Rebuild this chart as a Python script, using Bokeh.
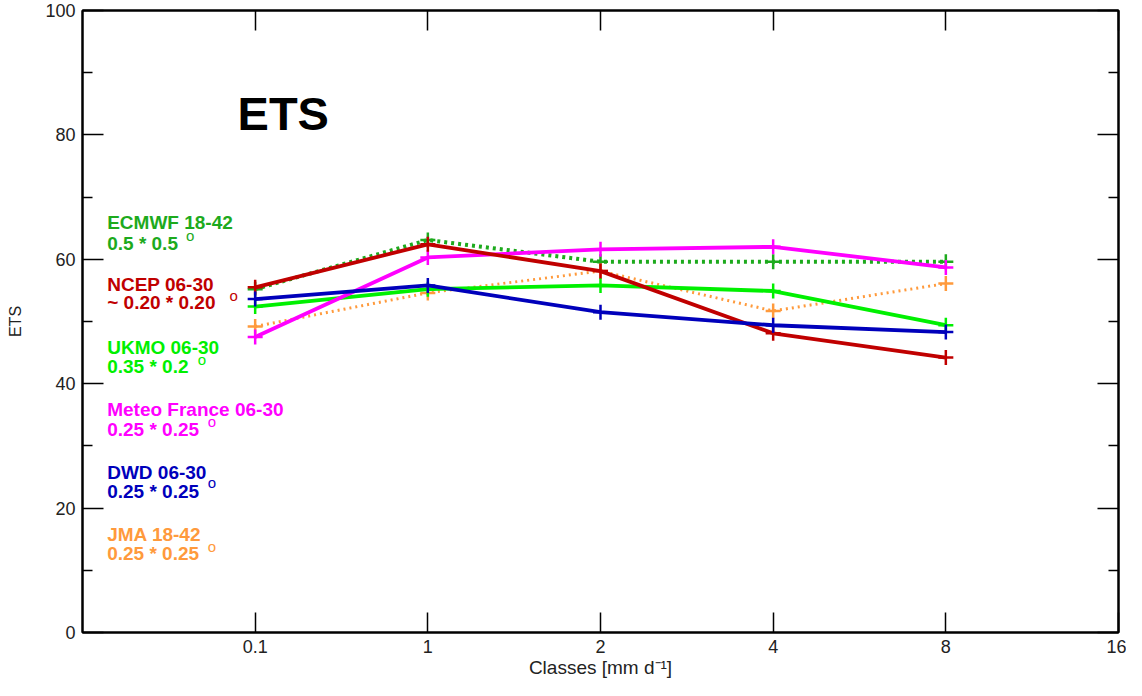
from bokeh.plotting import figure
from bokeh.models import FixedTicker, LinearAxis, Range1d, CustomJSTickFormatter
from bokeh.core.properties import value
from bokeh.embed import file_html
from bokeh.resources import INLINE

# ---------------- data ----------------
classes = ["0.1", "1", "2", "4", "8", "16"]
y_ticks = [0, 20, 40, 60, 80, 100]

models = ["ECMWF 18-42", "NCEP 06-30", "UKMO 06-30", "Meteo France 06-30", "DWD 06-30", "JMA 18-42"]
resolutions = ["0.5 * 0.5", "~ 0.20 * 0.20", "0.35 * 0.2", "0.25 * 0.25", "0.25 * 0.25", "0.25 * 0.25"]

ecmwf = [55.2, 63.1, 59.6, 59.6, 59.6]
ncep = [55.5, 62.4, 58.1, 48.1, 44.2]
ukmo = [52.4, 55.2, 55.8, 54.9, 49.4]
meteo = [47.5, 60.3, 61.6, 62.0, 58.7]
dwd = [53.6, 55.8, 51.5, 49.4, 48.3]
jma = [49.2, 54.6, 58.1, 51.7, 56.1]

series = [ecmwf, ncep, ukmo, meteo, dwd, jma]
colors = ["#1daa1d", "#c00000", "#00f000", "#ff00ff", "#0000bb", "#ff9a3c"]
dashes = ["3 4", "solid", "solid", "solid", "solid", "2 4"]
widths = [4, 3.8, 3.8, 3.8, 3.8, 3]
draw_order = [0, 5, 2, 3, 1, 4]

# label layout (data units)
label_x = 0.143
label_y1 = [65.9, 55.9, 45.9, 35.9, 25.8, 15.8]
label_y2 = [62.5, 53.0, 42.8, 32.6, 22.6, 12.7]
deg_x = [0.624, 0.875, 0.692, 0.749, 0.749, 0.749]
deg_y = [63.9, 54.2, 43.9, 34.0, 24.1, 13.8]

axis_font = "Liberation Sans"

p = figure(width=1126, height=680, output_backend="svg", toolbar_location=None,
           x_range=Range1d(0, len(classes)), y_range=Range1d(0, 100),
           min_border_left=82, min_border_right=8, min_border_top=10, min_border_bottom=46)
p.grid.visible = False
p.background_fill_color = "white"
p.border_fill_color = "white"
p.outline_line_color = "black"
p.outline_line_width = 2

xt = FixedTicker(ticks=list(range(1, len(classes) + 1)))
yt = FixedTicker(ticks=y_ticks, minor_ticks=[10, 30, 50, 70, 90])

def style_axis(ax):
    ax.axis_line_color = "black"
    ax.axis_line_width = 2
    ax.major_tick_line_color = "black"
    ax.major_tick_line_width = 1.5
    ax.minor_tick_line_color = "black"
    ax.minor_tick_line_width = 1.5
    ax.major_tick_out = 0
    ax.minor_tick_out = 0
    ax.major_label_text_font = axis_font
    ax.major_label_text_font_size = "18px"
    ax.major_label_text_color = "#222222"
    ax.axis_label_text_font = axis_font
    ax.axis_label_text_font_style = "normal"
    ax.axis_label_text_color = "#222222"

# bottom axis
xa = p.xaxis[0]
xa.ticker = xt
xa.major_label_overrides = {i + 1: c for i, c in enumerate(classes)}
style_axis(xa)
xa.major_tick_in = 20
xa.minor_tick_in = 0
xa.major_label_standoff = 7
xa.axis_label = "Classes [mm d\u207b\u00b9]"
xa.axis_label_text_font_size = "19px"
xa.axis_label_standoff = 1

# left axis
ya = p.yaxis[0]
ya.ticker = yt
style_axis(ya)
ya.major_tick_in = 21
ya.minor_tick_in = 10
ya.major_label_standoff = 7
ya.axis_label = "ETS"
ya.axis_label_text_font_size = "16px"
ya.axis_label_standoff = 18

# top & right mirror axes (ticks only)
blank = CustomJSTickFormatter(code="return ''")
ta = LinearAxis(ticker=xt, formatter=blank)
style_axis(ta)
ta.major_tick_in = 20
ta.minor_tick_in = 0
ta.major_label_standoff = 0
p.add_layout(ta, "above")

ra = LinearAxis(ticker=yt, formatter=blank)
style_axis(ra)
ra.major_tick_in = 21
ra.minor_tick_in = 10
ra.major_label_standoff = 0
p.add_layout(ra, "right")

# lines
for i in draw_order:
    xs = [k + 1 for k in range(len(series[i]))]
    p.line(xs, series[i], line_color=colors[i], line_width=widths[i], line_dash=dashes[i])
    p.scatter(xs, series[i], marker="cross", size=15, line_color=colors[i], line_width=2.5)

# legend texts
for i in range(len(models)):
    p.text(x=[label_x], y=[label_y1[i]], text=[models[i]], text_color=colors[i],
           text_font=value("Liberation Sans"), text_font_style="bold", text_font_size="19px",
           text_align="left", text_baseline="middle")
    p.text(x=[label_x], y=[label_y2[i]], text=[resolutions[i]], text_color=colors[i],
           text_font=value("Liberation Sans"), text_font_style="bold", text_font_size="19px",
           text_align="left", text_baseline="middle")
    p.text(x=[deg_x[i]], y=[deg_y[i]], text=["o"], text_color=colors[i],
           text_font=value("Liberation Sans"), text_font_size="15px",
           text_align="center", text_baseline="middle")

p.text(x=[0.898], y=[83.5], text=["ETS"], text_color="black",
       text_font=value("Liberation Sans"), text_font_style="bold", text_font_size="47px",
       text_align="left", text_baseline="middle")

open("out.html", "w").write(file_html(p, INLINE))
